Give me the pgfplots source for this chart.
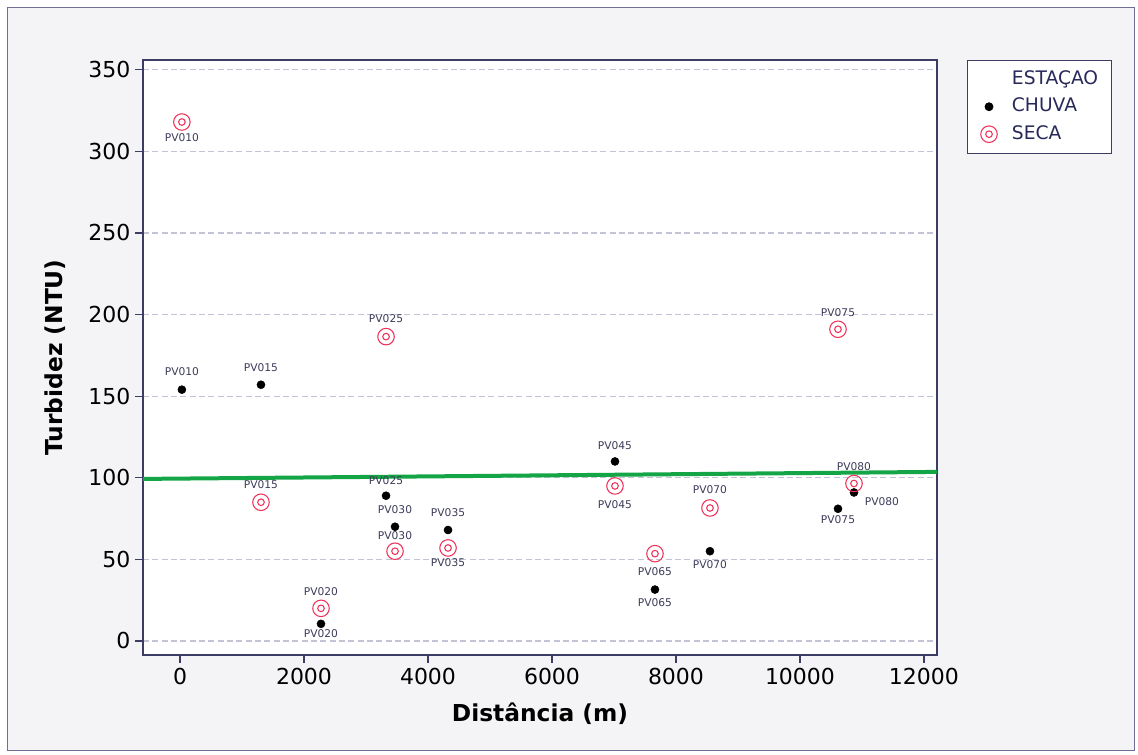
\documentclass[border=0pt]{standalone}
\usepackage{pgfplots}
\pgfplotsset{compat=1.18}
\usepackage{pgfplotstable}
\usepackage{fontspec}
\setmainfont{DejaVu Sans}

\definecolor{framebg}{RGB}{244,244,247}
\definecolor{frameline}{RGB}{110,110,150}
\definecolor{axisline}{RGB}{60,60,100}
\definecolor{gridc}{RGB}{195,195,215}
\definecolor{secared}{RGB}{240,50,90}
\definecolor{fitgreen}{RGB}{20,165,70}
\definecolor{labeltext}{RGB}{60,60,90}
\definecolor{legtext}{RGB}{40,40,90}

% circle with a small circle inside
\pgfdeclareplotmark{target}{%
  \pgfpathcircle{\pgfpointorigin}{\pgfplotmarksize}\pgfusepathqstroke
  \pgfpathcircle{\pgfpointorigin}{0.4\pgfplotmarksize}\pgfusepathqstroke}

% distance (m), turbidity (NTU), station, label offset from the point (pt)
\pgfplotstableread{
x     y     label dx dy
30    154   PV010 0  13.5
1306  157   PV015 0  12.75
2274  10.5  PV020 0  -7.5
3323  89    PV025 0  11.25
3468  70    PV030 0  12.75
4323  68    PV035 0  12.75
7016  110   PV045 0  12
7661  31.5  PV065 0  -9.75
8548  55    PV070 0  -9.75
10613 81    PV075 0  -8.25
10871 91    PV080 21 -6.75
}\chuva

\pgfplotstableread{
x     y     label dx dy
30    318   PV010 0  -12
1306  85    PV015 0  13.5
2274  20    PV020 0  12.75
3323  186.5 PV025 0  13.5
3468  55    PV030 0  12
4323  57    PV035 0  -11.25
7016  95    PV045 0  -14.25
7661  53.5  PV065 0  -13.5
8548  81.5  PV070 0  13.5
10613 191   PV075 0  12.75
10871 96.5  PV080 0  12.75
}\seca

\pgfplotsset{
  chuva mark/.style={only marks, mark=*, mark size=3pt, black},
  seca mark/.style={only marks, mark=target, mark size=6.2pt, secared, line width=0.8pt},
  station labels/.style={
    nodes near coords,
    point meta=explicit symbolic,
    visualization depends on={\thisrow{dx}\as\labdx},
    visualization depends on={\thisrow{dy}\as\labdy},
    every node near coord/.style={anchor=center, xshift=\labdx pt, yshift=\labdy pt, inner sep=0pt,
      font=\fontsize{8}{9.6}\selectfont, text=labeltext},
  },
}

\begin{document}
\begin{tikzpicture}
\begin{scope}[x=0.75pt,y=0.75pt]
  \fill[white] (0,0) rectangle (1138,754);
  \filldraw[fill=framebg,draw=frameline,line width=0.75pt] (7.5,3.5) rectangle (1134.5,746.5);
\end{scope}
\begin{axis}[
  at={(107.25pt,74.25pt)}, anchor=south west,
  scale only axis, width=595.5pt, height=446.25pt,
  xmin=-597, xmax=12210, ymin=-8.6, ymax=356,
  xtick={0,2000,...,12000}, ytick={0,50,...,350},
  scaled x ticks=false, scaled y ticks=false,
  /pgf/number format/assume math mode=true,
  /pgf/number format/1000 sep={},
  tick label style={font=\fontsize{16.5}{19}\selectfont, text=black},
  tick align=outside, major tick length=6pt,
  xtick pos=bottom, ytick pos=left,
  axis line style={axisline, line width=0.8pt},
  every tick/.style={axisline, line width=0.8pt},
  axis background/.style={fill=white},
  ymajorgrids,
  major grid style={gridc, line width=0.8pt, dash pattern=on 4.5pt off 2.5pt},
  xlabel={Distância (m)}, ylabel={Turbidez (NTU)},
  label style={font=\bfseries\fontsize{17.5}{20}\selectfont, text=black},
  xlabel style={at={(axis description cs:0.5,-0.0992)}, anchor=center},
  ylabel style={at={(axis description cs:-0.1108,0.5)}, anchor=center},
  legend style={at={(1.0378,1)}, anchor=north west, draw=axisline, line width=0.6pt,
    fill=white, font=\fontsize{14}{16}\selectfont, text=legtext,
    inner xsep=10pt, inner ysep=7.5pt, row sep=7.3pt, /tikz/column sep=11pt,
    nodes={inner sep=0pt, text height=10.3pt, text depth=3pt}},
  legend cell align=left,
  legend image code/.code={\draw[mark repeat=2,mark phase=2,#1] plot coordinates {(0cm,0cm)(0.15cm,0cm)(0.3cm,0cm)};},
]
\addlegendimage{empty legend}
\addlegendentry{ESTAÇAO}
\addlegendimage{chuva mark}
\addlegendentry{CHUVA}
\addlegendimage{seca mark}
\addlegendentry{SECA}

\addplot[chuva mark, station labels, forget plot] table[meta=label] {\chuva};
\addplot[seca mark, station labels, forget plot] table[meta=label] {\seca};

% linear reference line
\addplot[fitgreen, line width=3pt, forget plot]
  coordinates {(-597,99.3) (12210,103.6)};
\end{axis}
\end{tikzpicture}
\end{document}
